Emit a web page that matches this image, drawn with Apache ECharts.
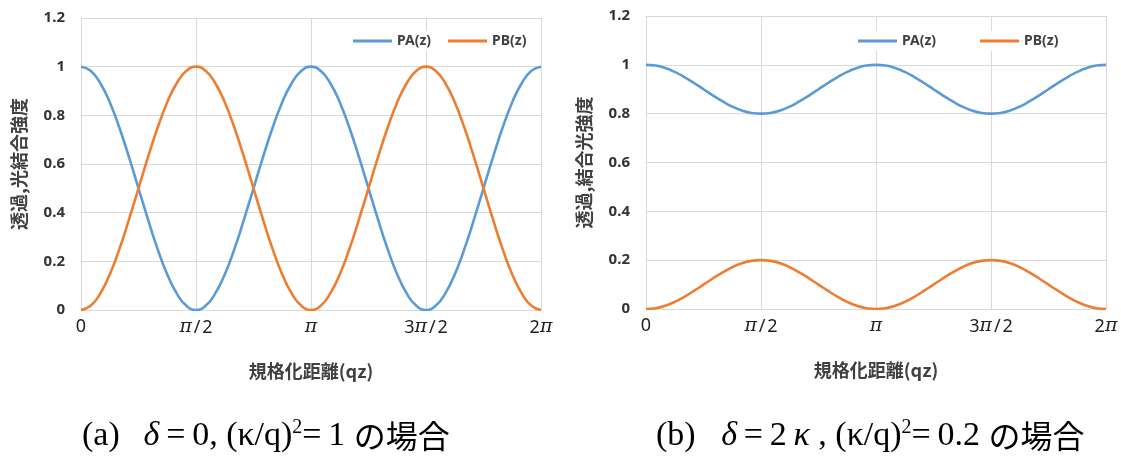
<!DOCTYPE html>
<html>
<head>
<meta charset="utf-8">
<script src="https://cdn.jsdelivr.net/npm/echarts@6/dist/echarts.min.js"></script>
<style>
html,body{margin:0;padding:0;background:#fff;}
#c{width:1121px;height:459px;}
</style>
</head>
<body>
<div id="c"></div>
<script>
// Sample positions in units of π/24 (0 .. 2π)
const xs = [0,1,2,3,4,5,6,7,8,9,10,11,12,13,14,15,16,17,18,19,20,21,22,23,24,25,26,27,28,29,30,31,32,33,34,35,36,37,38,39,40,41,42,43,44,45,46,47,48];
const tickLabels = ['0','π/2','π','3π/2','2π'];
const seriesNames = ['PA(z)','PB(z)'];
// (a) δ = 0, (κ/q)^2 = 1
const paA = [1,0.983,0.933,0.854,0.75,0.629,0.5,0.371,0.25,0.146,0.067,0.017,0,0.017,0.067,0.146,0.25,0.371,0.5,0.629,0.75,0.854,0.933,0.983,1,0.983,0.933,0.854,0.75,0.629,0.5,0.371,0.25,0.146,0.067,0.017,0,0.017,0.067,0.146,0.25,0.371,0.5,0.629,0.75,0.854,0.933,0.983,1];
const pbA = [0,0.017,0.067,0.146,0.25,0.371,0.5,0.629,0.75,0.854,0.933,0.983,1,0.983,0.933,0.854,0.75,0.629,0.5,0.371,0.25,0.146,0.067,0.017,0,0.017,0.067,0.146,0.25,0.371,0.5,0.629,0.75,0.854,0.933,0.983,1,0.983,0.933,0.854,0.75,0.629,0.5,0.371,0.25,0.146,0.067,0.017,0];
// (b) δ = 2κ, (κ/q)^2 = 0.2
const paB = [1,0.997,0.987,0.971,0.95,0.926,0.9,0.874,0.85,0.829,0.813,0.803,0.8,0.803,0.813,0.829,0.85,0.874,0.9,0.926,0.95,0.971,0.987,0.997,1,0.997,0.987,0.971,0.95,0.926,0.9,0.874,0.85,0.829,0.813,0.803,0.8,0.803,0.813,0.829,0.85,0.874,0.9,0.926,0.95,0.971,0.987,0.997,1];
const pbB = [0,0.003,0.013,0.029,0.05,0.074,0.1,0.126,0.15,0.171,0.187,0.197,0.2,0.197,0.187,0.171,0.15,0.126,0.1,0.074,0.05,0.029,0.013,0.003,0,0.003,0.013,0.029,0.05,0.074,0.1,0.126,0.15,0.171,0.187,0.197,0.2,0.197,0.187,0.171,0.15,0.126,0.1,0.074,0.05,0.029,0.013,0.003,0];
const yTitleA = '透過,光結合強度';
const yTitleB = '透過,結合光強度';
const xTitle = '規格化距離(qz)';

const BLUE = '#5B9BD5', ORANGE = '#ED7D31', GRID = '#d9d9d9', TXT = '#404040';
const sans = '"Noto Sans CJK JP","Noto Sans",sans-serif';
const serif = '"Liberation Serif","DejaVu Serif",serif';
const H = '\u200A';

function zip(a){ return xs.map((x,i)=>[x,a[i]]); }

function fmtTick(v){
  const s = tickLabels[v/12];
  return s.split('π').map(p => p ? '{d|' + p.replace('/', H + '/' + H) + '}' : '').join('{p|π}');
}

function xAxis(gi){
  return {
    type:'value', gridIndex:gi, min:0, max:48, interval:12,
    axisLine:{show:true, lineStyle:{color:GRID}}, axisTick:{show:false},
    splitLine:{show:true, lineStyle:{color:GRID, width:1}},
    axisLabel:{margin:8, formatter:fmtTick,
      rich:{
        d:{fontSize:18, color:'#222', fontFamily:'"Noto Sans",sans-serif'},
        p:{fontSize:19, color:'#222', fontFamily:'"DejaVu Serif",serif', fontStyle:'italic'}
      }},
    name:xTitle, nameLocation:'middle', nameGap:52,
    nameTextStyle:{fontSize:18, fontWeight:'bold', color:TXT, fontFamily:sans}
  };
}
function yAxis(gi, title){
  return {
    type:'value', gridIndex:gi, min:0, max:1.2, interval:0.2,
    axisLine:{show:true, lineStyle:{color:GRID}}, axisTick:{show:false},
    splitLine:{show:true, lineStyle:{color:GRID, width:1}},
    axisLabel:{margin:16, fontSize:15, fontWeight:'bold', color:'#333', fontFamily:'"Noto Sans",sans-serif',
      formatter:v=>String(Math.round(v*10)/10)},
    name:title, nameLocation:'middle', nameGap:53, nameRotate:90,
    nameTextStyle:{fontSize:18, fontWeight:'bold', color:TXT, fontFamily:sans}
  };
}
function line(name, gi, data, color){
  return {type:'line', name, xAxisIndex:gi, yAxisIndex:gi, data:zip(data),
    smooth:true, showSymbol:false, symbol:'none', lineStyle:{color, width:2.6}, itemStyle:{color}};
}
function legend(left, gap){
  return {data:seriesNames, left, top:31, icon:'rect', itemWidth:39, itemHeight:3, itemGap:gap,
    backgroundColor:'#fff', padding:[3,4],
    textStyle:{fontSize:14, fontWeight:'bold', color:TXT, fontFamily:'"Noto Sans",sans-serif'}};
}
const rich = {
  n:{fontSize:34, fontWeight:'normal', fontFamily:serif, color:'#000', lineHeight:40},
  i:{fontSize:34, fontWeight:'normal', fontFamily:serif, fontStyle:'italic', color:'#000', lineHeight:40},
  s:{fontSize:20, fontWeight:'normal', fontFamily:serif, color:'#000', lineHeight:22, verticalAlign:'top', padding:[2,0,0,0]},
  j:{fontSize:32, fontWeight:'normal', fontFamily:sans, color:'#000', lineHeight:40}
};
const T = '\u2009';
const capA = '{n|(a)  ' + T + '}{i|δ}{n|' + T + '=' + T + '0, (κ/q)}{s|2}{n|=' + T + '1 }{j|の場合}';
const capB = '{n|(b)   }{i|δ}{n|' + T + '=' + T + '2' + T + '}{i|κ}{n| , (κ/q)}{s|2}{n|=' + T + '0.2 }{j|の場合}';

const chart = echarts.init(document.getElementById('c'));
chart.setOption({
  backgroundColor:'#fff',
  animation:false,
  grid:[
    {left:81, right:580, top:18, bottom:149},
    {left:646, right:15, top:16, bottom:150}
  ],
  xAxis:[xAxis(0), xAxis(1)],
  yAxis:[yAxis(0, yTitleA), yAxis(1, yTitleB)],
  legend:[legend(349, 17), legend(854, 44)],
  title:[
    {left:82, top:416, padding:0, text:capA, textStyle:{rich, fontWeight:'normal'}},
    {left:656, top:416, padding:0, text:capB, textStyle:{rich, fontWeight:'normal'}}
  ],
  series:[
    line(seriesNames[0],0,paA,BLUE), line(seriesNames[1],0,pbA,ORANGE),
    line(seriesNames[0],1,paB,BLUE), line(seriesNames[1],1,pbB,ORANGE)
  ]
});
</script>
</body>
</html>
